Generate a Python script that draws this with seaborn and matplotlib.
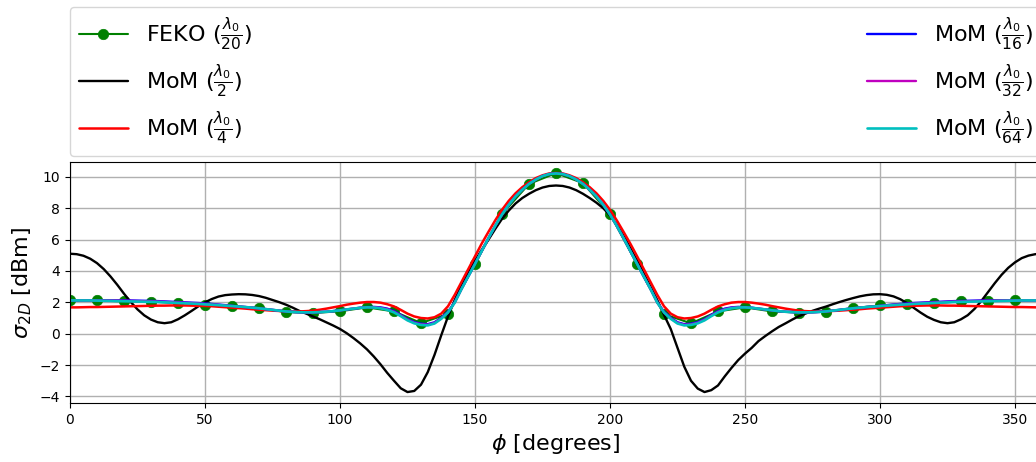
import numpy as np
import matplotlib
matplotlib.use("Agg")
import matplotlib.pyplot as plt
import seaborn as sns

# Observation angle grid for the MoM curves (degrees, 2.5 degree step)
phi = np.arange(0, 360.1, 2.5)

# FEKO reference solution, sampled every 10 degrees
feko_phi = np.arange(0, 351, 10)
feko = [2.12, 2.12, 2.06, 2.05, 1.95, 1.86, 1.75, 1.63, 1.38, 1.32,
        1.43, 1.68, 1.42, 0.68, 1.26, 4.45, 7.62, 9.55, 10.24, 9.60,
        7.64, 4.44, 1.25, 0.66, 1.42, 1.68, 1.42, 1.35, 1.40, 1.63,
        1.80, 1.90, 1.95, 2.06, 2.10, 2.12]

# MoM, lambda0/2 discretisation
mom_2 = [5.10, 5.07, 4.97, 4.78, 4.50, 4.12, 3.65, 3.12, 2.55, 2.02,
         1.55, 1.17, 0.90, 0.73, 0.67, 0.73, 0.92, 1.17, 1.45, 1.74,
         2.00, 2.21, 2.37, 2.46, 2.50, 2.52, 2.51, 2.47, 2.40, 2.29,
         2.15, 2.01, 1.85, 1.66, 1.45, 1.28, 1.10, 0.92, 0.72, 0.52,
         0.30, 0.03, -0.28, -0.62, -1.00, -1.45, -1.95, -2.50, -3.00, -3.48,
         -3.72, -3.65, -3.25, -2.45, -1.35, -0.10, 1.10, 2.15, 3.10, 3.92,
         4.65, 5.35, 6.00, 6.68, 7.32, 7.85, 8.30, 8.65, 8.92, 9.15,
         9.32, 9.42, 9.45, 9.42, 9.32, 9.15, 8.92, 8.65, 8.35, 8.00,
         7.55, 6.95, 6.25, 5.48, 4.68, 3.85, 3.00, 2.15, 1.20, 0.30,
         -0.90, -2.10, -3.00, -3.50, -3.72, -3.60, -3.30, -2.72, -2.18, -1.68,
         -1.27, -0.90, -0.47, -0.15, 0.15, 0.43, 0.66, 0.90, 1.12, 1.29,
         1.46, 1.60, 1.73, 1.88, 2.02, 2.15, 2.27, 2.38, 2.46, 2.51,
         2.52, 2.48, 2.38, 2.20, 1.95, 1.65, 1.35, 1.08, 0.88, 0.73,
         0.67, 0.73, 0.92, 1.18, 1.58, 2.08, 2.65, 3.22, 3.75, 4.20,
         4.55, 4.82, 4.98, 5.07, 5.10]

# MoM, lambda0/4 discretisation
mom_4 = [1.68, 1.68, 1.69, 1.70, 1.70, 1.71, 1.72, 1.73, 1.74, 1.75,
         1.76, 1.77, 1.78, 1.79, 1.79, 1.80, 1.80, 1.80, 1.79, 1.78,
         1.77, 1.75, 1.72, 1.69, 1.66, 1.63, 1.60, 1.56, 1.53, 1.50,
         1.47, 1.45, 1.43, 1.42, 1.42, 1.44, 1.47, 1.53, 1.60, 1.68,
         1.76, 1.85, 1.92, 1.98, 2.02, 2.02, 1.98, 1.88, 1.74, 1.52,
         1.28, 1.10, 1.00, 0.97, 1.05, 1.28, 1.75, 2.48, 3.30, 4.12,
         4.95, 5.75, 6.50, 7.23, 7.90, 8.47, 8.95, 9.34, 9.65, 9.92,
         10.10, 10.22, 10.25, 10.22, 10.10, 9.92, 9.65, 9.34, 8.95, 8.47,
         7.90, 7.23, 6.50, 5.75, 4.95, 4.12, 3.30, 2.48, 1.75, 1.28,
         1.05, 0.97, 1.00, 1.10, 1.28, 1.52, 1.74, 1.88, 1.98, 2.02,
         2.02, 1.98, 1.92, 1.85, 1.76, 1.68, 1.60, 1.53, 1.47, 1.44,
         1.42, 1.42, 1.43, 1.45, 1.47, 1.50, 1.53, 1.56, 1.60, 1.63,
         1.66, 1.69, 1.72, 1.75, 1.77, 1.78, 1.79, 1.80, 1.80, 1.80,
         1.79, 1.79, 1.78, 1.77, 1.76, 1.75, 1.74, 1.73, 1.72, 1.71,
         1.70, 1.70, 1.69, 1.68, 1.68]

# MoM, lambda0/16 discretisation
mom_16 = [2.12, 2.12, 2.13, 2.13, 2.13, 2.13, 2.13, 2.13, 2.13, 2.12,
          2.11, 2.10, 2.09, 2.08, 2.06, 2.04, 2.02, 2.00, 1.98, 1.96,
          1.93, 1.90, 1.86, 1.82, 1.78, 1.74, 1.70, 1.66, 1.62, 1.57,
          1.52, 1.47, 1.42, 1.39, 1.37, 1.36, 1.36, 1.38, 1.40, 1.44,
          1.49, 1.55, 1.60, 1.66, 1.70, 1.71, 1.68, 1.60, 1.44, 1.20,
          0.93, 0.74, 0.64, 0.61, 0.73, 1.02, 1.40, 2.01, 2.86, 3.65,
          4.45, 5.28, 6.10, 6.88, 7.60, 8.22, 8.75, 9.18, 9.55, 9.83,
          10.05, 10.18, 10.22, 10.18, 10.05, 9.83, 9.55, 9.18, 8.75, 8.22,
          7.60, 6.88, 6.10, 5.28, 4.45, 3.65, 2.86, 2.01, 1.40, 1.02,
          0.73, 0.61, 0.64, 0.74, 0.93, 1.20, 1.44, 1.60, 1.68, 1.71,
          1.70, 1.66, 1.60, 1.55, 1.49, 1.44, 1.40, 1.38, 1.36, 1.36,
          1.37, 1.39, 1.42, 1.47, 1.52, 1.57, 1.62, 1.66, 1.70, 1.73,
          1.78, 1.82, 1.86, 1.90, 1.93, 1.96, 1.98, 2.00, 2.02, 2.04,
          2.06, 2.08, 2.09, 2.10, 2.11, 2.12, 2.12, 2.12, 2.12, 2.12,
          2.12, 2.12, 2.12, 2.12, 2.12]

# MoM, lambda0/32 discretisation
mom_32 = [2.12, 2.12, 2.12, 2.12, 2.12, 2.11, 2.11, 2.11, 2.10, 2.09,
          2.08, 2.07, 2.06, 2.05, 2.03, 2.01, 1.99, 1.97, 1.95, 1.93,
          1.90, 1.87, 1.84, 1.80, 1.77, 1.73, 1.70, 1.66, 1.62, 1.57,
          1.52, 1.47, 1.42, 1.39, 1.37, 1.36, 1.36, 1.38, 1.40, 1.44,
          1.49, 1.55, 1.60, 1.65, 1.69, 1.69, 1.65, 1.56, 1.40, 1.16,
          0.89, 0.70, 0.60, 0.57, 0.69, 0.98, 1.37, 1.99, 2.85, 3.65,
          4.45, 5.28, 6.10, 6.88, 7.60, 8.22, 8.75, 9.18, 9.55, 9.83,
          10.05, 10.18, 10.22, 10.18, 10.05, 9.83, 9.55, 9.18, 8.75, 8.22,
          7.60, 6.88, 6.10, 5.28, 4.45, 3.65, 2.85, 1.99, 1.37, 0.98,
          0.69, 0.57, 0.60, 0.70, 0.89, 1.16, 1.40, 1.56, 1.65, 1.69,
          1.69, 1.65, 1.60, 1.55, 1.49, 1.44, 1.40, 1.38, 1.36, 1.36,
          1.37, 1.39, 1.42, 1.47, 1.52, 1.57, 1.62, 1.66, 1.70, 1.73,
          1.77, 1.80, 1.84, 1.87, 1.90, 1.93, 1.95, 1.97, 1.99, 2.01,
          2.03, 2.05, 2.06, 2.07, 2.08, 2.09, 2.10, 2.10, 2.11, 2.11,
          2.12, 2.12, 2.12, 2.12, 2.12]

# MoM, lambda0/64 discretisation
mom_64 = [2.12, 2.12, 2.12, 2.12, 2.11, 2.10, 2.09, 2.08, 2.07, 2.06,
          2.05, 2.04, 2.03, 2.02, 2.00, 1.98, 1.96, 1.94, 1.92, 1.90,
          1.87, 1.85, 1.82, 1.79, 1.76, 1.73, 1.70, 1.66, 1.62, 1.57,
          1.52, 1.47, 1.42, 1.39, 1.37, 1.36, 1.36, 1.38, 1.40, 1.44,
          1.49, 1.55, 1.60, 1.65, 1.68, 1.67, 1.62, 1.52, 1.36, 1.12,
          0.85, 0.66, 0.56, 0.53, 0.65, 0.95, 1.35, 1.98, 2.85, 3.65,
          4.45, 5.28, 6.10, 6.88, 7.60, 8.22, 8.75, 9.18, 9.55, 9.83,
          10.05, 10.18, 10.22, 10.18, 10.05, 9.83, 9.55, 9.18, 8.75, 8.22,
          7.60, 6.88, 6.10, 5.28, 4.45, 3.65, 2.85, 1.98, 1.35, 0.95,
          0.65, 0.53, 0.56, 0.66, 0.85, 1.12, 1.36, 1.52, 1.62, 1.67,
          1.68, 1.65, 1.60, 1.55, 1.49, 1.44, 1.40, 1.38, 1.36, 1.36,
          1.37, 1.39, 1.42, 1.47, 1.52, 1.57, 1.62, 1.66, 1.70, 1.73,
          1.76, 1.79, 1.82, 1.85, 1.87, 1.90, 1.92, 1.94, 1.96, 1.98,
          2.00, 2.02, 2.03, 2.04, 2.05, 2.06, 2.07, 2.08, 2.09, 2.10,
          2.11, 2.12, 2.12, 2.12, 2.12]

x_ticks = [0, 50, 100, 150, 200, 250, 300, 350]
y_ticks = [-4, -2, 0, 2, 4, 6, 8, 10]

sns.set_style("ticks")
plt.rcParams.update({
    "font.family": ["DejaVu Sans"],
    "axes.edgecolor": "black",
    "text.color": "black",
    "axes.labelcolor": "black",
    "xtick.color": "black",
    "ytick.color": "black",
    "mathtext.fontset": "dejavusans",
})

fig = plt.figure(figsize=(10.36, 4.62), dpi=100)
ax = fig.add_axes([70 / 1036, 59 / 462, 972 / 1036, 241 / 462])

sns.lineplot(x=feko_phi, y=feko, ax=ax, color="g", marker="o",
             markersize=7.5, markeredgecolor="g", markeredgewidth=0.5,
             linewidth=1.5, label=r"FEKO ($\frac{\lambda_0}{20}$)")
sns.lineplot(x=phi, y=mom_2, ax=ax, color="k", linewidth=1.7,
             label=r"MoM ($\frac{\lambda_0}{2}$)")
sns.lineplot(x=phi, y=mom_4, ax=ax, color="r", linewidth=1.8,
             label=r"MoM ($\frac{\lambda_0}{4}$)")
sns.lineplot(x=phi, y=mom_16, ax=ax, color="b", linewidth=1.7,
             label=r"MoM ($\frac{\lambda_0}{16}$)")
sns.lineplot(x=phi, y=mom_32, ax=ax, color="m", linewidth=1.7,
             label=r"MoM ($\frac{\lambda_0}{32}$)")
sns.lineplot(x=phi, y=mom_64, ax=ax, color="c", linewidth=1.9,
             label=r"MoM ($\frac{\lambda_0}{64}$)")

ax.set_xlim(0, 360)
ax.set_xticks(x_ticks)
ax.set_yticks(y_ticks)
ax.grid(True, color="#b0b0b0", linewidth=1.0)
ax.tick_params(labelsize=10)
ax.set_xlabel(r"$\phi$ [degrees]", fontsize=16)
ax.set_ylabel(r"$\sigma_{2D}$ [dBm]", fontsize=16)

ax.legend(loc="lower left", bbox_to_anchor=(0, 1.025, 1, 0.6),
          mode="expand", ncol=2, borderaxespad=0, fontsize=16,
          handlelength=2.2, labelspacing=0.43, frameon=True,
          edgecolor="0.8", framealpha=0.8, fancybox=True)

fig.savefig("out.png", dpi=100)
